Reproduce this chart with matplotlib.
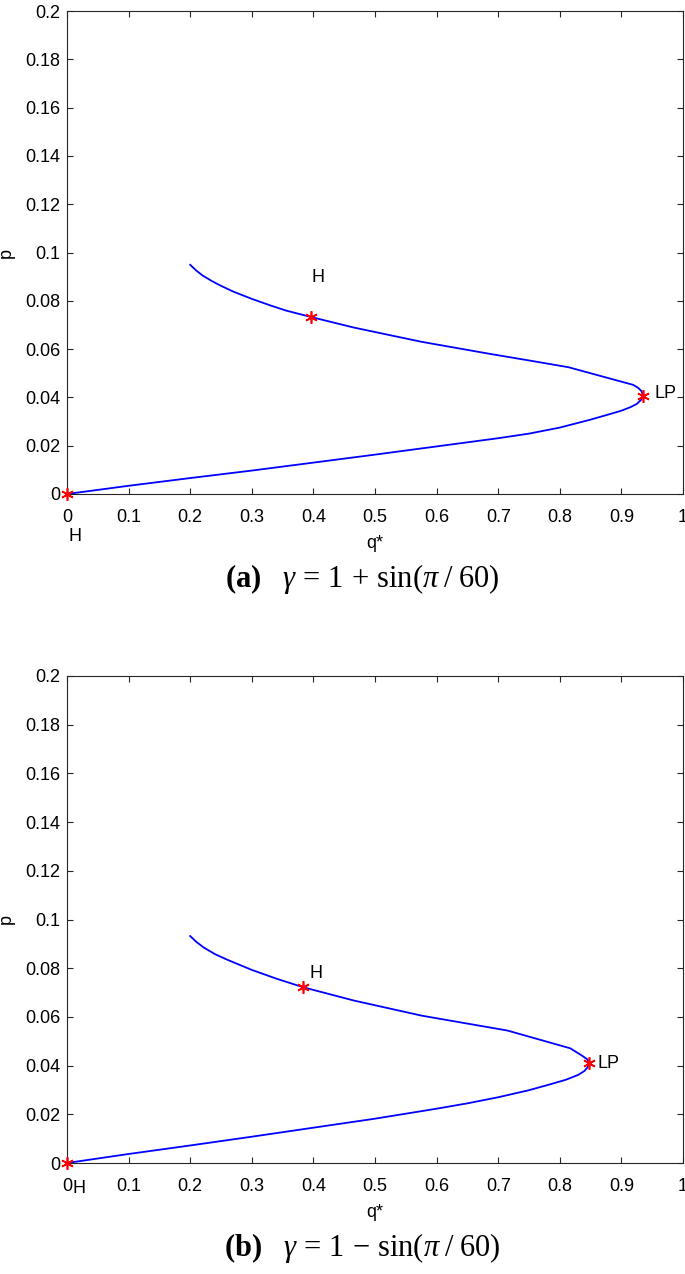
import matplotlib
matplotlib.use("Agg")
import matplotlib.pyplot as plt

# panel (a): gamma = 1 + sin(pi/60), continuation from origin through LP
q_a = [0, 0.1, 0.2, 0.3, 0.4, 0.5, 0.6, 0.7, 0.75, 0.8, 0.85, 0.88, 0.9, 0.915, 0.925, 0.932, 0.935,
       0.933, 0.927, 0.919, 0.814, 0.75, 0.687, 0.576, 0.466, 0.396, 0.355, 0.33, 0.3, 0.27, 0.25,
       0.235, 0.22, 0.21, 0.2]
p_a = [0, 0.0034, 0.0066, 0.0097, 0.013, 0.0163, 0.0197, 0.0231, 0.025, 0.0275, 0.0308, 0.033, 0.0345, 0.036, 0.0373, 0.039, 0.0407,
       0.0425, 0.044, 0.0452, 0.0525, 0.0553, 0.058, 0.063, 0.0689, 0.0733, 0.076, 0.0781, 0.0808, 0.0838, 0.0862,
       0.0882, 0.0905, 0.0925, 0.0949]
pts_a_q = [0, 0.396, 0.935]
pts_a_p = [0, 0.0733, 0.0407]

# panel (b): gamma = 1 - sin(pi/60)
q_b = [0, 0.1, 0.2, 0.3, 0.4, 0.5, 0.6, 0.65, 0.7, 0.75, 0.78, 0.81, 0.83, 0.84, 0.845, 0.847,
       0.845, 0.836, 0.817, 0.715, 0.576, 0.466, 0.383, 0.34, 0.3, 0.26, 0.24, 0.222, 0.21, 0.2]
p_b = [0, 0.0037, 0.0072, 0.0108, 0.0145, 0.0182, 0.0223, 0.0245, 0.027, 0.0299, 0.032, 0.0342, 0.0362, 0.0378, 0.0393, 0.0411,
       0.0425, 0.0441, 0.0471, 0.0544, 0.0605, 0.0667, 0.0722, 0.0757, 0.0793, 0.0835, 0.0858, 0.0885, 0.0908, 0.0932]
pts_b_q = [0, 0.383, 0.847]
pts_b_p = [0, 0.0722, 0.0411]

xticks = [0, 0.1, 0.2, 0.3, 0.4, 0.5, 0.6, 0.7, 0.8, 0.9, 1]
yticks = [0, 0.02, 0.04, 0.06, 0.08, 0.1, 0.12, 0.14, 0.16, 0.18, 0.2]

plt.rcParams["font.family"] = ["Liberation Sans", "DejaVu Sans"]
plt.rcParams["mathtext.fontset"] = "custom"
plt.rcParams["mathtext.rm"] = "Liberation Serif"
plt.rcParams["mathtext.it"] = "Liberation Serif:italic"
plt.rcParams["mathtext.bf"] = "Liberation Serif:bold"

W, H = 685, 1274
fig = plt.figure(figsize=(W / 100, H / 100), dpi=100)


def panel(top, bottom, q, p, mq, mp, labels, caption, cap_y):
    ax = fig.add_axes([67 / W, 1 - bottom / H, 616 / W, (bottom - top) / H])
    ax.plot(q, p, color="#0000ff", lw=1.3)
    ax.plot(mq, mp, ls="none", marker=(6, 2, 0), color="#ff0000",
            markersize=9, markeredgewidth=1.2, clip_on=False, zorder=5)
    for x, y, s in labels:
        ax.text(x, y, s, fontsize=13, ha="left", va="center", clip_on=False)
    ax.set_xlim(0, 1)
    ax.set_ylim(0, 0.2)
    ax.set_xticks(xticks)
    ax.set_xticklabels([f"{v:g}" for v in xticks])
    ax.set_yticks(yticks)
    ax.set_yticklabels([f"{v:g}" for v in yticks])
    ax.tick_params(direction="in", top=True, right=True, length=4.3, width=0.8,
                   color="#262626", labelsize=13)
    ax.tick_params(axis="x", pad=11)
    ax.tick_params(axis="y", pad=5)
    for s in ax.spines.values():
        s.set_color("#262626")
        s.set_linewidth(0.8)
    ax.set_xlabel("q*", fontsize=13, labelpad=6)
    ax.set_ylabel("p", fontsize=13)
    ax.yaxis.set_label_coords(-0.085, 0.5)
    fig.text(362 / W, 1 - cap_y / H, caption, fontsize=22, ha="center", va="center")
    return ax


panel(11, 494, q_a, p_a, pts_a_q, pts_a_p,
      [(0.397, 0.0895, "H"), (0.953, 0.0415, "LP"), (0.002, -0.0178, "H")],
      r"$\mathbf{(a)}\ \ \ \gamma\,=\,1\,+\,\mathrm{sin}(\pi\;/\;60)$", 579)
panel(676, 1163, q_b, p_b, pts_b_q, pts_b_p,
      [(0.394, 0.0777, "H"), (0.861, 0.041, "LP"), (0.009, -0.0103, "H")],
      r"$\mathbf{(b)}\ \ \ \gamma\,=\,1\,-\,\mathrm{sin}(\pi\;/\;60)$", 1248)

fig.savefig("out.png", dpi=100)
